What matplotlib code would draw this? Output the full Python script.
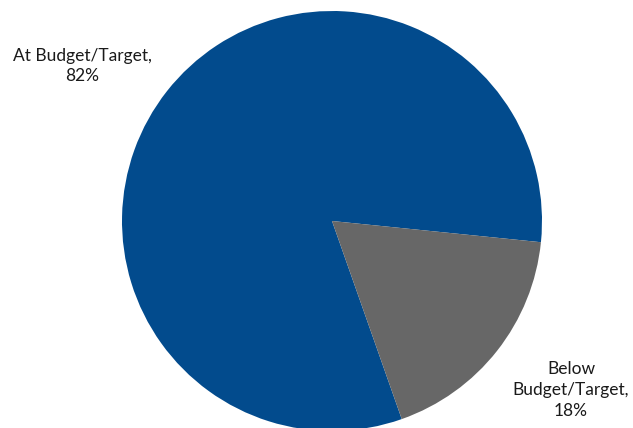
import matplotlib
matplotlib.use("Agg")
import matplotlib.pyplot as plt

labels = ["At Budget/Target,\n82%", "Below\nBudget/Target,\n18%"]
values = [82, 18]
colors = ["#024B8D", "#676767"]

plt.rcParams['font.family'] = ['Lato', 'DejaVu Sans']

fig = plt.figure(figsize=(6.33, 4.28), dpi=100)
W, H = 633, 428
cx, cy, r = 332, 428 - 221, 210
ax = fig.add_axes([(cx - r) / W, (cy - r) / H, 2 * r / W, 2 * r / H])
ax.pie(values, colors=colors, startangle=-70.6, counterclock=False,
       radius=1.0, wedgeprops=dict(linewidth=0))
ax.set_xlim(-1, 1)
ax.set_ylim(-1, 1)
ax.set_aspect("equal")
ax.axis("off")

# slice labels sit outside the pie, in figure pixel coordinates
fig.text(82 / W, 1 - 66 / H, labels[0], ha="center", va="center",
         fontsize=12.5, color="#1a1a1a", linespacing=1.35)
fig.text(571 / W, 1 - 390 / H, labels[1], ha="center", va="center",
         fontsize=12.5, color="#1a1a1a", linespacing=1.35)

fig.savefig("out.png", dpi=100)
